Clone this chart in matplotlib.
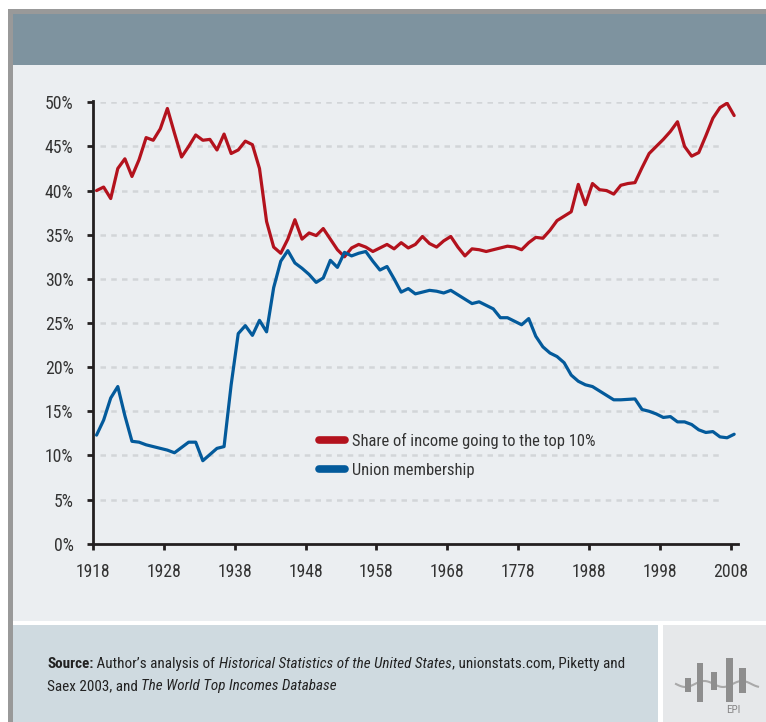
import matplotlib
matplotlib.use("Agg")
import matplotlib.pyplot as plt
from matplotlib.patches import Rectangle
from matplotlib.lines import Line2D
from matplotlib import font_manager as fm
import numpy as np

# ---------------- data ----------------
years = list(range(1918, 2009))

top10_share = [
    40.0, 40.4, 39.1, 42.5, 43.6, 41.6, 43.5, 46.0, 45.7, 47.0,   # 1918-1927
    49.3, 46.5, 43.8, 45.0, 46.3, 45.7, 45.8, 44.6, 46.4, 44.2,   # 1928-1937
    44.6, 45.6, 45.2, 42.5, 36.5, 33.6, 32.9, 34.5, 36.7, 34.5,   # 1938-1947
    35.2, 34.9, 35.7, 34.5, 33.3, 32.5, 33.5, 33.9, 33.6, 33.1,   # 1948-1957
    33.5, 33.9, 33.4, 34.1, 33.5, 33.9, 34.8, 34.0, 33.6, 34.3,   # 1958-1967
    34.8, 33.6, 32.6, 33.4, 33.3, 33.1, 33.3, 33.5, 33.7, 33.6,   # 1968-1977
    33.3, 34.1, 34.7, 34.6, 35.5, 36.6, 37.1, 37.6, 40.7, 38.4,   # 1978-1987
    40.8, 40.1, 40.0, 39.6, 40.6, 40.8, 40.9, 42.6, 44.2, 45.0,   # 1988-1997
    45.8, 46.7, 47.8, 45.0, 43.9, 44.3, 46.2, 48.2, 49.4, 49.9,   # 1998-2007
    48.5,                                                         # 2008
]

union_membership = [
    12.3, 14.0, 16.5, 17.8, 14.5, 11.6, 11.5, 11.2, 11.0, 10.8,   # 1918-1927
    10.6, 10.3, 10.9, 11.5, 11.5, 9.4, 10.1, 10.8, 11.0, 18.0,    # 1928-1937
    23.8, 24.7, 23.6, 25.3, 24.0, 29.0, 32.0, 33.2, 31.8, 31.2,   # 1938-1947
    30.5, 29.6, 30.1, 32.1, 31.3, 33.0, 32.6, 32.9, 33.1, 32.0,   # 1948-1957
    31.0, 31.4, 30.0, 28.5, 28.9, 28.3, 28.5, 28.7, 28.6, 28.4,   # 1958-1967
    28.7, 28.2, 27.7, 27.2, 27.4, 27.0, 26.6, 25.6, 25.6, 25.2,   # 1968-1977
    24.8, 25.5, 23.5, 22.3, 21.6, 21.2, 20.5, 19.1, 18.4, 18.0,   # 1978-1987
    17.8, 17.3, 16.8, 16.3, 16.3, 16.35, 16.4, 15.2, 15.0, 14.7,  # 1988-1997
    14.3, 14.4, 13.8, 13.8, 13.5, 12.9, 12.6, 12.7, 12.1, 12.0,   # 1998-2007
    12.4,                                                         # 2008
]

tick_years = [1918, 1928, 1938, 1948, 1958, 1968, 1978, 1988, 1998, 2008]
tick_labels = ["1918", "1928", "1938", "1948", "1958", "1968", "1778", "1988", "1998", "2008"]
y_ticks = [0, 5, 10, 15, 20, 25, 30, 35, 40, 45, 50]

series_labels = ["Share of income going to the top 10%", "Union membership"]

# ---------------- fonts: prefer a narrow sans ----------------
entries = fm.fontManager.ttflist
names = {f.name for f in entries}
narrow_names = {f.name for f in entries
                if str(f.stretch) in ("condensed", "semi-condensed", "extra-condensed",
                                      "ultra-condensed")}
FONT, STRETCH = "Liberation Sans", "normal"
if "Liberation Sans Narrow" in names:
    FONT = "Liberation Sans Narrow"
else:
    for cand in ["Roboto Condensed", "Roboto", "Open Sans Condensed", "Open Sans",
                 "Noto Sans", "Lato", "Inter"]:
        if cand in narrow_names:
            FONT, STRETCH = cand, "condensed"
            break
plt.rcParams["font.family"] = [FONT, "DejaVu Sans"]
plt.rcParams["font.stretch"] = STRETCH

W, H = 766, 722
fig = plt.figure(figsize=(W / 100, H / 100), dpi=100)
fig.patch.set_facecolor("white")
renderer = fig.canvas.get_renderer()


def text_width(s, size, **kw):
    t = fig.text(0, 0, s, fontsize=size, **kw)
    w = t.get_window_extent(renderer).width
    t.remove()
    return w


def fit(s, target_px, base, lo, hi, **kw):
    w = text_width(s, base, **kw)
    return float(np.clip(base * target_px / w, lo, hi))


def rect_px(x0, y0, x1, y1, color, z=0):
    fig.add_artist(Rectangle((x0 / W, 1 - y1 / H), (x1 - x0) / W, (y1 - y0) / H,
                             transform=fig.transFigure, facecolor=color,
                             edgecolor="none", zorder=z))


# frame / panels
rect_px(8, 9, W, H, "#999999")
rect_px(13, 14, W, 65, "#7E939F")
rect_px(13, 65, W, 621, "#EBEEF1")
rect_px(13, 621, W, H, "white")
rect_px(13, 625, 658, H, "#CFDAE0")
rect_px(663, 625, W, H, "#E6E8EA")

# ---------------- axes ----------------
ax_left, ax_right = 93, 737.7
ax_top, ax_bottom = 102.3, 543.7
ax = fig.add_axes([ax_left / W, 1 - ax_bottom / H,
                   (ax_right - ax_left) / W, (ax_bottom - ax_top) / H])
ax.set_facecolor("none")
ax.set_xlim(years[0] - 0.5, years[-1] + 0.5)
ax.set_ylim(0, 50)

for yv in y_ticks[1:]:
    ax.axhline(yv, xmin=0.011, xmax=0.977, color="#D2D5D8", lw=1.8,
               dashes=(2.2, 2.1), zorder=1)

red = "#B3121D"
blue = "#035A9B"
ax.plot(years, top10_share, color=red, lw=2.3, solid_joinstyle="round",
        solid_capstyle="round", zorder=3)
ax.plot(years, union_membership, color=blue, lw=2.3, solid_joinstyle="round",
        solid_capstyle="round", zorder=3)

for s in ["top", "right"]:
    ax.spines[s].set_visible(False)
for s in ["left", "bottom"]:
    ax.spines[s].set_color("#231F20")
    ax.spines[s].set_linewidth(2.0)
ax.spines["left"].set_bounds(0, 50.2)

tick_size = fit("2008", 35, 12.5, 11.0, 13.5)
ax.set_xticks([y - 0.5 for y in tick_years])
ax.set_xticklabels(tick_labels)
ax.set_yticks(y_ticks)
ax.set_yticklabels([f"{v}%" for v in y_ticks])
ax.tick_params(axis="both", direction="out", length=4, width=2.0,
               color="#231F20", labelcolor="#333333", labelsize=tick_size, pad=10)

# legend
leg_size = fit(series_labels[0], 243, 12, 10.0, 13.0)
handles = [Line2D([0], [0], color=red, lw=5.5, solid_capstyle="round"),
           Line2D([0], [0], color=blue, lw=5.5, solid_capstyle="round")]
leg = ax.legend(handles, series_labels, loc="upper left",
                bbox_to_anchor=(319 / W, 1 - 433 / H), bbox_transform=fig.transFigure,
                frameon=False, fontsize=leg_size, handlelength=31 / (leg_size * 100 / 72) - 0.3,
                handletextpad=0.45, labelspacing=0.82, borderpad=0, borderaxespad=0)
for t in leg.get_texts():
    t.set_color("#333333")

# ---------------- source note ----------------
line1 = [("Source:", "bold", "normal"),
         (" Author\u2019s analysis of ", "normal", "normal"),
         ("Historical Statistics of the United States", "normal", "italic"),
         (", unionstats.com, Piketty and", "normal", "normal")]
line2 = [("Saex 2003, and ", "normal", "normal"),
         ("The World Top Incomes Database", "normal", "italic")]

base = 10.0
w1 = sum(text_width(t, base, fontweight=wt, fontstyle=st) for t, wt, st in line1)
src_size = float(np.clip(base * 573 / w1, 8.5, 11.0))


def rich_line(x_px, y_px, parts, size):
    x = x_px
    for txt, weight, style in parts:
        t = fig.text(x / W, 1 - y_px / H, txt, fontsize=size, fontweight=weight,
                     fontstyle=style, color="#222222", va="center", ha="left")
        x += t.get_window_extent(renderer).width


rich_line(47, 664, line1, src_size)
rich_line(47, 686, line2, src_size)

# ---------------- logo ----------------
wave_x = np.linspace(676, 758, 60)
wave_y = 684 + 3 * np.sin((wave_x - 676) / 6.0)
fig.add_artist(Line2D(wave_x / W, 1 - wave_y / H, transform=fig.transFigure,
                      color="#A9A9A9", lw=1.5, zorder=1))
logo_bars = [(685, 678, 691, 692), (697, 663, 703, 702), (711, 672, 717, 690),
             (726, 658, 733, 702), (739, 668, 746, 693)]
for x0, y0, x1, y1 in logo_bars:
    rect_px(x0, y0, x1, y1, "#8E8E8E", z=2)
fig.text(733 / W, 1 - 710 / H, "EPI", fontsize=8, color="#888888",
         ha="center", va="center")

fig.savefig("out.png", dpi=100, facecolor=fig.get_facecolor())
